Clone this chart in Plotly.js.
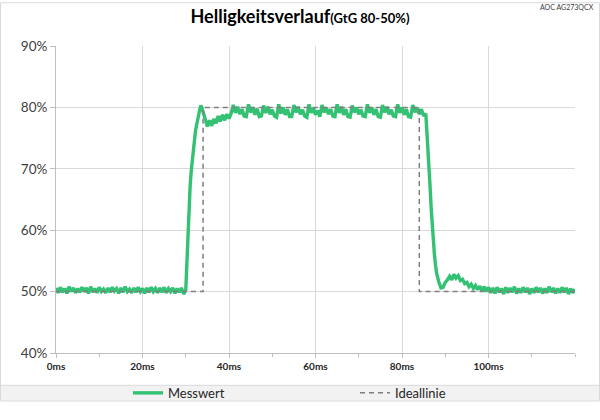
<!DOCTYPE html>
<html>
<head>
<meta charset="utf-8">
<script src="https://cdn.plot.ly/plotly-3.0.1.min.js"></script>
<style>
html,body{margin:0;padding:0;background:#fff;}
#chart{width:600px;height:420px;}
</style>
</head>
<body>
<div id="chart"></div>
<script>
// ---- data ----
var preTime = [0,0.5,1,1.5,2,2.5,3,3.5,4,4.5,5,5.5,6,6.5,7,7.5,8,8.5,9,9.5,
  10,10.5,11,11.5,12,12.5,13,13.5,14,14.5,15,15.5,16,16.5,17,17.5,18,18.5,19,19.5,
  20,20.5,21,21.5,22,22.5,23,23.5,24,24.5,25,25.5,26,26.5,27,27.5,28,28.5,29,29.5];
var preVal = [50.6,49.8,50.7,49.9,50.5,49.7,50.8,50.0,50.6,49.8,
  50.5,49.9,50.7,50.0,50.6,49.7,50.8,49.9,50.5,49.8,
  50.7,50.0,50.4,49.8,50.6,49.9,50.7,50.1,50.5,49.7,
  50.6,49.9,50.8,50.0,50.4,49.8,50.6,49.9,50.7,50.0,
  50.5,49.7,50.6,49.9,50.7,50.0,50.5,49.8,50.6,49.9,
  50.7,49.8,50.5,50.0,50.6,49.7,50.5,49.9,50.6,49.6];
var riseTime = [30,30.25,30.5,30.75,31,31.25,31.5,31.75,32,32.25,32.5,32.75,33,33.25,33.5,33.75,34,34.5,
  35,35.5,36,36.5,37,37.5,38,38.5,39,39.5,40,40.5];
var riseVal = [50.2,55.0,60.0,64.0,67.0,69.5,71.5,73.0,74.8,76.2,77.1,78.3,78.8,79.7,80.3,79.9,79.4,78.1,
  76.9,77.9,77.0,78.1,77.4,78.6,77.7,78.8,77.9,78.9,78.2,79.0];
var plateauTime = [41,41.5,42,42.5,43,43.5,44,44.5,45,45.5,46,46.5,47,47.5,
  48,48.5,49,49.5,50,50.5,51,51.5,52,52.5,53,53.5,54,54.5,
  55,55.5,56,56.5,57,57.5,58,58.5,59,59.5,60,60.5,61,
  61.5,62,62.5,63,63.5,64,64.5,65,65.5,66,66.5,67,67.5,68,
  68.5,69,69.5,70,70.5,71,71.5,72,72.5,73,73.5,74,74.5,75,
  75.5,76,76.5,77,77.5,78,78.5,79,79.5,80,80.5,81,81.5,82,
  82.5,83,83.5,84,84.5,85,85.5];
var plateauVal = [80.4,79.1,80.1,78.9,79.7,78.6,78.5,
  80.5,79.2,80.0,78.8,79.8,78.5,78.6,
  80.3,79.1,80.1,78.9,79.6,78.6,78.4,
  80.5,79.0,80.0,78.8,79.7,78.5,78.5,
  80.4,79.2,80.1,78.9,79.6,78.6,78.4,
  80.5,79.1,79.9,78.8,79.5,78.5,
  80.4,79.2,80.0,78.9,79.7,78.6,78.5,
  80.5,79.1,80.1,78.8,79.7,78.5,78.4,
  80.3,79.2,80.0,78.9,79.6,78.6,78.5,
  80.5,79.1,80.0,78.8,79.7,78.5,78.4,
  80.4,79.2,80.1,78.9,79.6,78.6,78.5,
  80.5,79.1,80.0,78.8,79.7,78.5,78.4,
  80.4,79.2,80.0,78.9,79.7,78.6,79.0];
var fallTime = [85.75,86,86.25,86.5,86.75,87,87.25,87.5,87.75,88,88.5,89,89.5,90,90.5,91,91.5,92,92.5,93,
  93.5,94,94.5,95,95.5,96,96.5,97,97.5,98,98.5,99,99.5,100];
var fallVal = [76.0,73.5,70.5,67.0,63.5,60.5,58.0,56.0,54.3,53.0,51.6,50.6,50.7,51.5,51.9,52.5,51.9,52.8,52.2,52.6,
  51.8,52.0,51.3,51.5,50.8,51.2,50.5,51.0,50.3,50.9,50.1,50.8,50.0,50.7];
var postTime = [100.5,101,101.5,102,102.5,103,103.5,104,104.5,105,105.5,106,106.5,107,107.5,108,108.5,109,109.5,110,
  110.5,111,111.5,112,112.5,113,113.5,114,114.5,115,115.5,116,116.5,117,117.5,118,118.5,119,119.5,120];
var postVal = [49.8,50.6,49.7,50.7,49.9,50.5,49.6,50.7,49.8,50.6,
  49.9,50.8,49.7,50.5,49.8,50.7,49.9,50.6,49.6,50.5,
  49.8,50.7,49.9,50.6,49.7,50.5,49.8,50.8,49.9,50.6,
  49.7,50.5,49.8,50.7,49.9,50.6,49.6,50.5,49.8,50.4];

var idealTime = [0,34,34,84,84,120];
var idealVal  = [50,50,80,80,50,50];

var seriesNames = ['Messwert','Ideallinie'];
var xTickVals = [0,20,40,60,80,100];
var xTickText = ['0ms','20ms','40ms','60ms','80ms','100ms'];
var yTickVals = [40,50,60,70,80,90];
var yTickText = ['40%','50%','60%','70%','80%','90%'];

var measTime = preTime.concat(riseTime, plateauTime, fallTime, postTime);
var measVal  = preVal.concat(riseVal, plateauVal, fallVal, postVal);

var L=56, R=25, T=46, B=51, W=600, H=420;
var pw = W-L-R, ph = H-T-B;
function px(x){ return (x-L)/pw; }
function py(y){ return (H-B-y)/ph; }

var traces = [
  {x: measTime, y: measVal, name: seriesNames[0], type:'scatter', mode:'lines',
   line:{color:'#33c173', width:3.4}, hoverinfo:'skip'},
  {x: idealTime, y: idealVal, name: seriesNames[1], type:'scatter', mode:'lines',
   line:{color:'#7f7f7f', width:1.5, dash:'5px,4px'}, hoverinfo:'skip'}
];

var layout = {
  width: W, height: H,
  margin: {l:L, r:R, t:T, b:B, pad:0},
  paper_bgcolor:'#ffffff', plot_bgcolor:'#ffffff',
  font: {family:'Lato, "DejaVu Sans", sans-serif', color:'#404040'},
  showlegend: true,
  title: {
    text: '<b>Helligkeitsverlauf</b><b><span style="font-size:13px">(GtG 80-50%)</span></b>',
    font: {family:'Lato, sans-serif', size:18, color:'#000000'},
    xref:'container', x: 0.5, xanchor:'center',
    yref:'container', y: 1-17/420, yanchor:'middle'
  },
  xaxis: {
    range:[0,120], tickvals:xTickVals, ticktext:xTickText,
    showgrid:true, gridcolor:'#d9d9d9', gridwidth:1,
    showline:true, linecolor:'#bfbfbf', linewidth:1,
    ticks:'outside', ticklen:4, tickcolor:'#bfbfbf',
    minor:{dtick:10, tick0:0, ticks:'outside', ticklen:3, tickcolor:'#bfbfbf', showgrid:false},
    tickfont:{size:10, color:'#262626', family:'Lato, sans-serif', weight:'bold'},
    zeroline:false, fixedrange:true
  },
  yaxis: {
    range:[40,90], tickvals:yTickVals, ticktext:yTickText,
    showgrid:true, gridcolor:'#d9d9d9', gridwidth:1,
    showline:true, linecolor:'#bfbfbf', linewidth:1,
    ticks:'outside', ticklen:5, tickcolor:'#bfbfbf',
    tickfont:{size:13.5, color:'#404040'},
    zeroline:false, fixedrange:true
  },
  legend: {
    orientation:'h', x: px(128), xanchor:'left', y: py(411), yanchor:'middle',
    bgcolor:'rgba(0,0,0,0)', borderwidth:0,
    font:{size:13, color:'#262626'},
    entrywidth: 182, entrywidthmode:'pixels',
    traceorder:'normal'
  },
  shapes: [
    {type:'rect', xref:'paper', yref:'paper', x0:px(1), x1:px(599), y0:py(403), y1:py(419),
     fillcolor:'#f2f2f2', line:{width:0}, layer:'below'},
    {type:'line', xref:'paper', yref:'paper', x0:px(1), x1:px(599), y0:py(403), y1:py(403),
     line:{color:'#d9d9d9', width:1}},
    {type:'rect', xref:'paper', yref:'paper', x0:px(0.5), x1:px(599.5), y0:py(419.5), y1:py(0.5),
     fillcolor:'rgba(0,0,0,0)', line:{color:'#d9d9d9', width:1}}
  ],
  annotations: [
    {text:'AOC AG273QCX', xref:'paper', yref:'paper', x:px(596), y:py(5), xanchor:'right', yanchor:'middle',
     showarrow:false, font:{size:7, color:'#404040'}}
  ]
};

Plotly.newPlot('chart', traces, layout, {displayModeBar:false, staticPlot:true});
</script>
</body>
</html>
